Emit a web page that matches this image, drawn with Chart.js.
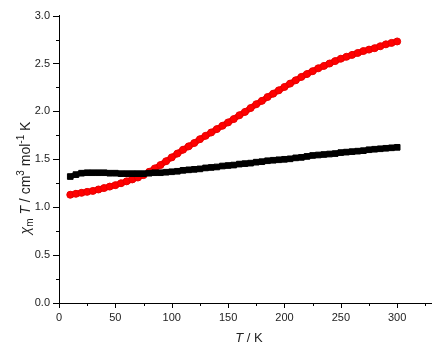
<!DOCTYPE html>
<html>
<head>
<meta charset="utf-8">
<style>
  html, body { margin: 0; padding: 0; background: #ffffff; }
  canvas { display: block; }
</style>
<script src="https://cdn.jsdelivr.net/npm/chart.js@4.4.1/dist/chart.umd.min.js"></script>
</head>
<body>
<canvas id="c" width="441" height="350"></canvas>
<script>
// Temperatures (K)
const temperatures = [10,15,20,25,30,35,40,45,50,55,60,65,70,75,80,85,90,95,100,105,110,115,120,125,130,135,140,145,150,155,160,165,170,175,180,185,190,195,200,205,210,215,220,225,230,235,240,245,250,255,260,265,270,275,280,285,290,295,300];
// Black squares series (chi_m T)
const seriesBlack = [1.32,1.34,1.355,1.36,1.36,1.36,1.36,1.355,1.355,1.35,1.35,1.35,1.35,1.35,1.355,1.36,1.36,1.365,1.37,1.375,1.385,1.39,1.395,1.40,1.41,1.415,1.42,1.43,1.435,1.44,1.45,1.455,1.46,1.47,1.475,1.485,1.49,1.495,1.50,1.505,1.515,1.52,1.53,1.54,1.545,1.55,1.555,1.56,1.57,1.575,1.58,1.585,1.59,1.60,1.605,1.61,1.615,1.62,1.625];
// Red circles series (chi_m T)
const seriesRed = [1.13,1.14,1.15,1.16,1.17,1.185,1.20,1.215,1.23,1.25,1.27,1.29,1.31,1.335,1.37,1.405,1.44,1.48,1.52,1.56,1.60,1.635,1.67,1.71,1.745,1.78,1.815,1.85,1.885,1.92,1.96,1.995,2.035,2.075,2.11,2.15,2.185,2.22,2.255,2.29,2.325,2.36,2.39,2.42,2.45,2.475,2.50,2.525,2.55,2.57,2.59,2.61,2.63,2.645,2.66,2.68,2.70,2.715,2.73];
// Axis tick settings
const xMin = 0, xMax = 330, xStep = 25, xLabelStep = 50;
const yMin = 0, yMax = 3.0, yStep = 0.25, yLabelStep = 0.5;

const toPts = (xs, ys) => xs.map((x, i) => ({x: x, y: ys[i]}));

const tickFont = {family: '"Liberation Sans", Arial, sans-serif', size: 11};

const customTicks = {
  id: 'customTicks',
  afterDraw(chart) {
    const ctx = chart.ctx;
    const xs = chart.scales.x, ys = chart.scales.y;
    const area = chart.chartArea;
    ctx.save();
    ctx.strokeStyle = '#000';
    ctx.lineWidth = 1;
    ctx.beginPath();
    xs.ticks.forEach(t => {
      const px = Math.round(xs.getPixelForValue(t.value)) + 0.5;
      const major = Math.abs(t.value / xLabelStep - Math.round(t.value / xLabelStep)) < 1e-6;
      const len = major ? 5 : 3;
      ctx.moveTo(px, area.bottom);
      ctx.lineTo(px, area.bottom + len);
    });
    ys.ticks.forEach(t => {
      const py = Math.round(ys.getPixelForValue(t.value)) + 0.5;
      const major = Math.abs(t.value / yLabelStep - Math.round(t.value / yLabelStep)) < 1e-6;
      const len = major ? 6 : 3;
      ctx.moveTo(area.left, py);
      ctx.lineTo(area.left - len, py);
    });
    ctx.stroke();

    // axis titles
    ctx.fillStyle = '#222';
    ctx.textBaseline = 'alphabetic';
    const fam = '"Liberation Sans", Arial, sans-serif';
    const big = 13, small = 9;
    // X title: "T / K"
    const xParts = [
      {t: 'T', f: 'italic ' + big + 'px ' + fam, dy: 0},
      {t: ' / K', f: big + 'px ' + fam, dy: 0}
    ];
    // Y title: "χm T / cm3 mol-1 K"
    const yb = 14, ys2 = 10;
    const yParts = [
      {t: 'χ', f: 'italic ' + yb + 'px ' + fam, dy: 0},
      {t: 'm', f: ys2 + 'px ' + fam, dy: 3},
      {t: ' ', f: yb + 'px ' + fam, dy: 0},
      {t: 'T', f: 'italic ' + yb + 'px ' + fam, dy: 0},
      {t: ' / cm', f: yb + 'px ' + fam, dy: 0},
      {t: '3', f: ys2 + 'px ' + fam, dy: -6},
      {t: ' mol', f: yb + 'px ' + fam, dy: 0},
      {t: '-1', f: ys2 + 'px ' + fam, dy: -6},
      {t: ' K', f: yb + 'px ' + fam, dy: 0}
    ];
    const widthOf = parts => parts.reduce((s, p) => { ctx.font = p.f; return s + ctx.measureText(p.t).width; }, 0);
    const drawParts = (parts, x0, y0) => {
      let x = x0;
      parts.forEach(p => { ctx.font = p.f; ctx.fillText(p.t, x, y0 + p.dy); x += ctx.measureText(p.t).width; });
    };
    const xw = widthOf(xParts);
    drawParts(xParts, 249 - xw / 2, 342);
    const yw = widthOf(yParts);
    ctx.save();
    ctx.translate(30, 178);
    ctx.rotate(-Math.PI / 2);
    drawParts(yParts, -yw / 2, 0);
    ctx.restore();
    ctx.restore();
  }
};

new Chart(document.getElementById('c'), {
  type: 'scatter',
  data: {
    datasets: [
      {
        label: 'black',
        data: toPts(temperatures, seriesBlack),
        showLine: true,
        borderColor: '#000000',
        borderWidth: 5,
        backgroundColor: '#000000',
        pointStyle: 'rect',
        pointRadius: 4,
        pointBorderWidth: 1,
        pointBorderColor: '#000000',
        pointBackgroundColor: '#000000'
      },
      {
        label: 'red',
        data: toPts(temperatures, seriesRed),
        showLine: true,
        borderColor: '#f00000',
        borderWidth: 6,
        backgroundColor: '#ff0000',
        pointStyle: 'circle',
        pointRadius: 3.5,
        pointBorderWidth: 1,
        pointBorderColor: '#e80000',
        pointBackgroundColor: '#ff0000'
      }
    ]
  },
  options: {
    responsive: false,
    animation: false,
    events: [],
    layout: {padding: {left: 0, right: 10, top: 15, bottom: 0}},
    plugins: {legend: {display: false}, tooltip: {enabled: false}, title: {display: false}},
    scales: {
      x: {
        type: 'linear',
        min: xMin, max: xMax,
        grid: {display: false, drawTicks: false},
        border: {display: true, color: '#000', width: 1},
        afterFit: s => { s.height = 47; },
        ticks: {
          stepSize: xStep,
          includeBounds: false,
          autoSkip: false,
          maxRotation: 0,
          padding: 8,
          color: '#222',
          font: tickFont,
          callback: v => (Math.abs(v / xLabelStep - Math.round(v / xLabelStep)) < 1e-6 ? String(v) : '')
        }
      },
      y: {
        type: 'linear',
        min: yMin, max: yMax,
        grid: {display: false, drawTicks: false},
        border: {display: true, color: '#000', width: 1},
        afterFit: s => { s.width = 59; },
        ticks: {
          stepSize: yStep,
          includeBounds: false,
          autoSkip: false,
          padding: 9,
          color: '#222',
          font: tickFont,
          callback: v => (Math.abs(v / yLabelStep - Math.round(v / yLabelStep)) < 1e-6 ? v.toFixed(1) : '')
        }
      }
    }
  },
  plugins: [customTicks]
});
</script>
</body>
</html>
